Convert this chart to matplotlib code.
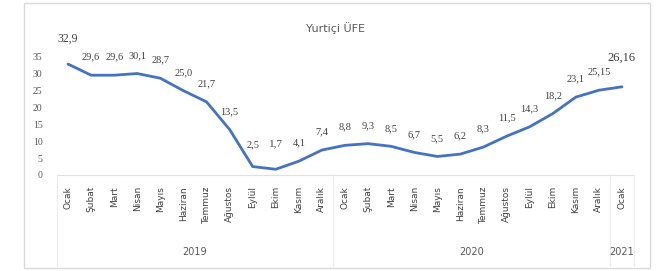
import matplotlib
matplotlib.use("Agg")
import matplotlib.pyplot as plt
from matplotlib.patches import Rectangle
from matplotlib.lines import Line2D

months = ["Ocak", "Şubat", "Mart", "Nisan", "Mayıs", "Haziran", "Temmuz",
          "Ağustos", "Eylül", "Ekim", "Kasım", "Aralık"] * 2 + ["Ocak"]
values = [32.9, 29.6, 29.6, 30.1, 28.7, 25.0, 21.7, 13.5, 2.5, 1.7, 4.1, 7.4,
          8.8, 9.3, 8.5, 6.7, 5.5, 6.2, 8.3, 11.5, 14.3, 18.2, 23.1, 25.15, 26.16]
labels = ["32,9", "29,6", "29,6", "30,1", "28,7", "25,0", "21,7", "13,5", "2,5", "1,7",
          "4,1", "7,4", "8,8", "9,3", "8,5", "6,7", "5,5", "6,2", "8,3", "11,5",
          "14,3", "18,2", "23,1", "25,15", "26,16"]
years = ["2019", "2020", "2021"]
year_spans = [(0, 11), (12, 23), (24, 24)]
yticks = [0, 5, 10, 15, 20, 25, 30, 35]
title = "Yurtiçi ÜFE"

W, H = 671, 271
fig = plt.figure(figsize=(W / 100, H / 100), dpi=100)
fig.patch.set_facecolor("white")

# outer chart border
fig.add_artist(Rectangle((24 / W, 1 - 268 / H), (650 - 24) / W, (268 - 3) / H,
                         transform=fig.transFigure, fill=False,
                         edgecolor="#d9d9d9", linewidth=1.0))

ax = fig.add_axes([56.5 / W, 1 - 175 / H, (633.5 - 56.5) / W, (175 - 57) / H])
x = list(range(len(values)))
ax.plot(x, values, color="#4472C4", linewidth=2.0, solid_capstyle="round",
        solid_joinstyle="round")
ax.set_xlim(-0.5, len(values) - 0.5)
ax.set_ylim(0, 35)
for s in ["top", "right", "left"]:
    ax.spines[s].set_visible(False)
ax.spines["bottom"].set_color("#e0e0e0")
ax.set_yticks(yticks)
ax.set_yticklabels([str(v) for v in yticks], fontsize=7, color="#595959",
                   family="Liberation Serif")
ax.tick_params(axis="y", length=0, pad=10)
ax.set_xticks(x)
ax.set_xticklabels(months, rotation=90, fontsize=6.5, color="#404040", va="top")
ax.tick_params(axis="x", length=0, pad=8)

big = {0: (8.5, 18), 9: (8, 18), 24: (9, 21)}
for i, (v, lab) in enumerate(zip(values, labels)):
    fs, off = big.get(i, (7.5, 13))
    if i == 8:
        off = 16
    ax.annotate(lab, (i, v), xytext=(0, off), textcoords="offset points",
                ha="center", va="center", fontsize=fs, color="#404040",
                family="Liberation Serif", annotation_clip=False)

fig.text(335 / W, 1 - 28 / H, title, ha="center", va="center", fontsize=8,
         color="#595959")

# year labels and separators
for yr, (a, b) in zip(years, year_spans):
    cx = ax.transData.transform(((a + b) / 2, 0))[0] / W
    fig.text(cx, 1 - 252 / H, yr, ha="center", va="center", fontsize=7,
             color="#595959")
for bx in [-0.5, 11.5, 23.5, 24.5]:
    px = ax.transData.transform((bx, 0))[0] / W
    fig.add_artist(Line2D([px, px], [1 - 175 / H, 1 - 266 / H],
                          transform=fig.transFigure, color="#ececec", linewidth=0.8))

fig.savefig("out.png", dpi=100)
